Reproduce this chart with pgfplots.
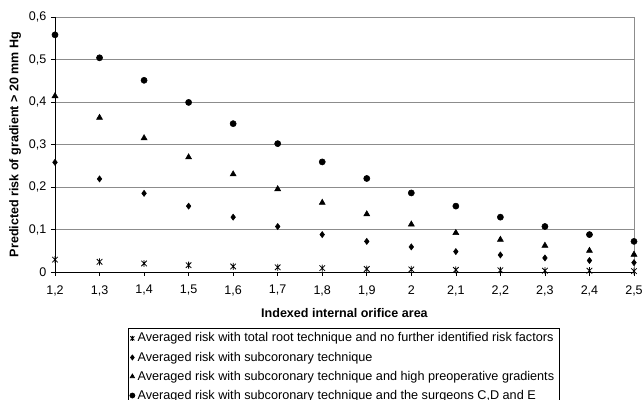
\documentclass[border=0pt]{standalone}
\usepackage{fontspec}
\setmainfont{Liberation Sans}
\usepackage{pgfplots}
\pgfplotsset{compat=1.18}
\pgfdeclareplotmark{xstar}{%
  \pgfpathmoveto{\pgfqpoint{-0.8\pgfplotmarksize}{-0.8\pgfplotmarksize}}%
  \pgfpathlineto{\pgfqpoint{0.8\pgfplotmarksize}{0.8\pgfplotmarksize}}%
  \pgfpathmoveto{\pgfqpoint{-0.8\pgfplotmarksize}{0.8\pgfplotmarksize}}%
  \pgfpathlineto{\pgfqpoint{0.8\pgfplotmarksize}{-0.8\pgfplotmarksize}}%
  \pgfpathmoveto{\pgfqpoint{0pt}{-\pgfplotmarksize}}%
  \pgfpathlineto{\pgfqpoint{0pt}{\pgfplotmarksize}}%
  \pgfusepathqstroke}
\begin{document}
\begin{tikzpicture}
\begin{axis}[
  scale only axis,
  width=434.25pt, height=191.25pt,
  xmin=1.2, xmax=2.5, ymin=0, ymax=0.6,
  xtick={1.2,1.3,1.4,1.5,1.6,1.7,1.8,1.9,2.0,2.1,2.2,2.3,2.4,2.5},
  xticklabels={{1,2},{1,3},{1,4},{1,5},{1,6},{1,7},{1,8},{1,9},{2},{2,1},{2,2},{2,3},{2,4},{2,5}},
  ytick={0,0.1,0.2,0.3,0.4,0.5,0.6},
  yticklabels={{0},{0,1},{0,2},{0,3},{0,4},{0,5},{0,6}},
  ymajorgrids, major grid style={gray!90, line width=0.6pt},
  axis line style={gray!90, line width=0.6pt},
  tick style={black, line width=0.5pt},
  tick align=outside, major tick length=3pt,
  xtick pos=bottom, ytick pos=left,
  tick label style={font=\fontsize{9.4}{11}\selectfont},
  xticklabel style={yshift=-3.5pt},
  xlabel={\textbf{Indexed internal orifice area}},
  ylabel={\textbf{Predicted risk of gradient > 20 mm Hg}},
  label style={font=\fontsize{9.4}{11}\selectfont},
  xlabel style={yshift=-3pt},
  ylabel style={yshift=-1pt},
  clip=false,
  legend style={at={(0.498,-0.2215)}, anchor=north, draw=black, line width=0.5pt,
    font=\fontsize{9.5}{10}\selectfont, cells={anchor=west}, row sep=1.9pt,
    inner xsep=1.5pt, inner ysep=1pt},
  legend image code/.code={\draw[mark size=1.9pt] plot coordinates {(0.12cm,0cm)};},
]
\addplot[only marks, mark=xstar, mark size=2.6pt, black, line width=0.6pt] coordinates {
(1.2,0.029) (1.3,0.024) (1.4,0.020) (1.5,0.016) (1.6,0.013) (1.7,0.011) (1.8,0.009)
(1.9,0.007) (2.0,0.006) (2.1,0.005) (2.2,0.004) (2.3,0.003) (2.4,0.003) (2.5,0.002)};
\addplot[only marks, mark=diamond*, mark size=2.3pt, black] coordinates {
(1.2,0.258) (1.3,0.219) (1.4,0.185) (1.5,0.155) (1.6,0.129) (1.7,0.107) (1.8,0.088)
(1.9,0.072) (2.0,0.059) (2.1,0.048) (2.2,0.040) (2.3,0.033) (2.4,0.027) (2.5,0.022)};
\addplot[only marks, mark=triangle*, mark size=2.6pt, black] coordinates {
(1.2,0.414) (1.3,0.363) (1.4,0.315) (1.5,0.270) (1.6,0.230) (1.7,0.195) (1.8,0.163)
(1.9,0.136) (2.0,0.112) (2.1,0.092) (2.2,0.076) (2.3,0.062) (2.4,0.050) (2.5,0.041)};
\addplot[only marks, mark=*, mark size=2.3pt, black] coordinates {
(1.2,0.558) (1.3,0.504) (1.4,0.451) (1.5,0.399) (1.6,0.349) (1.7,0.302) (1.8,0.259)
(1.9,0.220) (2.0,0.186) (2.1,0.155) (2.2,0.129) (2.3,0.107) (2.4,0.088) (2.5,0.072)};
\legend{Averaged risk with total root technique and no further identified risk factors,
Averaged risk with subcoronary technique,
Averaged risk with subcoronary technique and high preoperative gradients,
Averaged risk with subcoronary technique and the surgeons C{,}D and E}
\draw[black, line width=0.7pt] (rel axis cs:0,1) -- (rel axis cs:0,0) -- (rel axis cs:1,0);
\coordinate (bl) at (rel axis cs:0,0);
\coordinate (tr) at (rel axis cs:1,1);
\end{axis}
\pgfresetboundingbox
\path ([xshift=-41.25pt,yshift=-96pt]bl) rectangle ([xshift=6.75pt,yshift=12.75pt]tr);
\end{tikzpicture}
\end{document}
